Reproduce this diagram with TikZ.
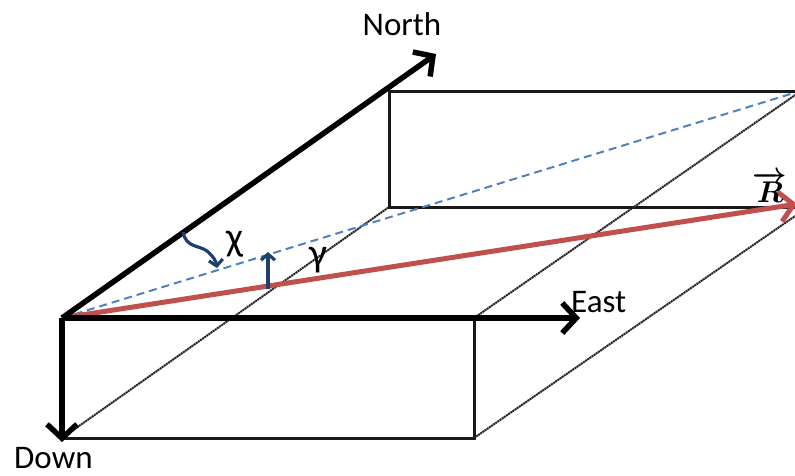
\RequirePackage{fix-cm}
\documentclass[tikz,border=0pt]{standalone}
\usepackage{fontspec}
\setmainfont{Carlito}
\usetikzlibrary{arrows.meta}
\definecolor{rred}{RGB}{192,80,77}
\definecolor{dblue}{RGB}{79,129,189}
\definecolor{navy}{RGB}{31,63,110}
\begin{document}
\begin{tikzpicture}[x=1pt,y=-1pt,
  axis/.style={line width=5.5pt,-{Straight Barb[length=14pt,width=30pt,line width=5.5pt]}},
  edgeline/.style={line width=3pt,black!90},
  diag/.style={line width=2pt,black!85,dash pattern=on 2pt off 0.6pt},
  lbl/.style={font=\fontsize{33}{33}\selectfont,inner sep=0pt},
  greek/.style={font=\fontsize{40}{40}\selectfont,inner sep=0pt},
  small/.style={navy,line width=3.2pt,-{Straight Barb[length=6pt,width=14pt,line width=3.2pt]}}]
\useasboundingbox (0,0) rectangle (795,475);
% corners
\coordinate (O) at (62,318);
\coordinate (FTR) at (474,318);
\coordinate (FBL) at (62,438);
\coordinate (FBR) at (474,438);
\coordinate (BTL) at (389,91);
\coordinate (BTR) at (801,91);
\coordinate (BBL) at (389,207);
\coordinate (BBR) at (801,207);
\coordinate (BBRd) at (801,212);
\coordinate (Ntip) at (436,54);
\coordinate (Etip) at (580,318);
\coordinate (Dtip) at (62,442);
\coordinate (Rtip) at (797,204);
\coordinate (Dq) at (797,92);
% box edges
\draw[edgeline] (FTR) -- (FBR) -- (FBL);
\draw[edgeline] (BTR) -- (BTL) -- (BBL) -- (BBR);
\draw[diag] (FBL) -- (BBL);
\draw[diag] (FTR) -- (BTR);
\draw[diag] (FBR) -- (BBRd);
% dashed and red
\draw[dblue,line width=2pt,dash pattern=on 8pt off 5pt] (O) -- (Dq);
\draw[rred,line width=5pt,-{Straight Barb[length=14pt,width=30pt,line width=5pt]}] (O) -- (Rtip);
% axes
\draw[axis] (O) -- (Ntip);
\draw[axis] (O) -- (Etip);
\draw[axis] (O) -- (Dtip);
% angle markers
\coordinate (c1) at (183,232);
\coordinate (c2) at (217,268);
\draw[small] (c1) .. controls (186,248) and (199,245) .. (207,251) .. controls (213,256) and (216,261) .. (c2);
\coordinate (g1) at (268,289);
\coordinate (g2) at (268,252);
\draw[small] (g1) -- (g2);
% labels
\node[lbl,anchor=base] (north) at (402,35) {North};
\node[lbl,anchor=base west] (east) at (571,312) {East};
\node[lbl,anchor=base west] (down) at (14,468) {Down};
\node[greek] (chi) at (235,244) {χ};
\node[greek] (gam) at (318,260) {γ};
\node[font=\fontsize{30}{30}\selectfont\boldmath,inner sep=0pt,anchor=south] (R) at (770,203) {$\overrightarrow{R}$};
\end{tikzpicture}
\end{document}
